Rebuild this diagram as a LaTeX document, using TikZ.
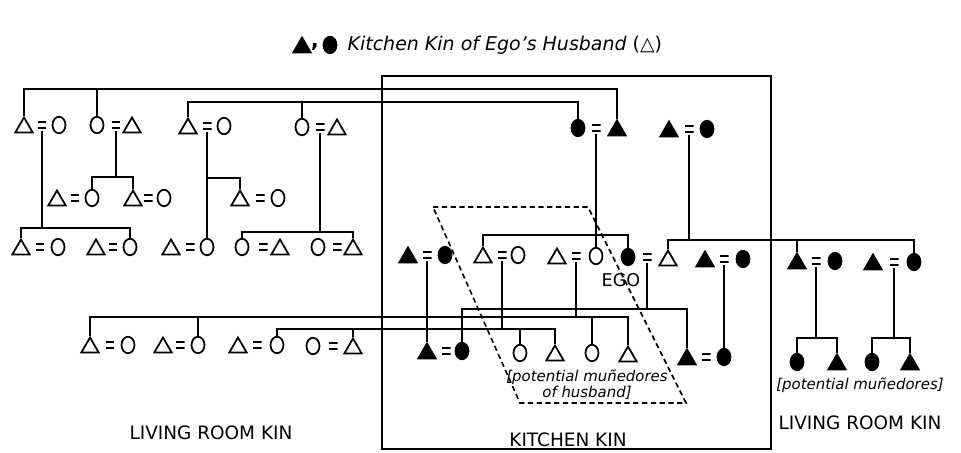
\documentclass[tikz,border=0pt]{standalone}
\usepackage{fontspec}
\setmainfont{DejaVu Sans}
\usetikzlibrary{shapes.geometric}

\begin{document}
\begin{tikzpicture}[x=0.02cm, y=-0.02cm, line width=0.9pt,
        man/.style = {regular polygon, regular polygon sides=3, draw, line width=1pt, inner sep=0pt, minimum size=0.4cm, yshift=-1.4pt},
        woman/.style = {ellipse, draw, line width=1pt, inner sep=0pt, minimum width=0.26cm, minimum height=0.33cm},
        kman/.style = {man, fill=black},
        kwoman/.style = {woman, fill=black},
        wed/.style = {inner sep=0pt, outer sep=1.5pt, minimum width=0.18cm, minimum height=0.15cm,
                path picture={\draw[line width=1pt]
                        ([yshift=-0.5pt]path picture bounding box.north west) -- ([yshift=-0.5pt]path picture bounding box.north east)
                        ([yshift=0.5pt]path picture bounding box.south west) -- ([yshift=0.5pt]path picture bounding box.south east);}},
        lbl/.style = {font=\fontsize{10.5}{12}\selectfont},
        note/.style = {font=\fontsize{8.5}{9}\selectfont\itshape}
        ]
        \useasboundingbox (0,0) rectangle (961,453);

        % title
        \node[kman] (t1) at (302,45) {};
        \node[font=\fontsize{12}{12}\selectfont\bfseries] (tcomma) at (315,47) {,};
        \node[kwoman] (t2) at (330,45) {};
        \node[anchor=west, font=\fontsize{10.8}{12}\selectfont] (title) at (341,45) {\itshape Kitchen Kin of Ego's Husband \upshape(△)};

        % kitchen frame and muñedores
        \draw[line width=1.3pt] (382,76) rectangle (771,449);
        \draw[dash pattern=on 3pt off 2pt] (433,207) -- (588,207) -- (686,403) -- (520,403) -- cycle;

        % first generation
        \node[man] (c1m) at (24,125) {};   \node[wed] (c1) at (42,125) {};   \node[woman] (c1f) at (59,125) {};
        \node[woman] (c2f) at (97,125) {}; \node[wed] (c2) at (116,125) {};  \node[man] (c2m) at (132,125) {};
        \node[man] (c3m) at (188,126) {};  \node[wed] (c3) at (207,126) {};  \node[woman] (c3f) at (224,126) {};
        \node[woman] (c4f) at (302,127) {};\node[wed] (c4) at (320,127) {};  \node[man] (c4m) at (337,127) {};
        \node[kwoman] (k1f) at (578,128) {};\node[wed] (k1) at (596,128) {};\node[kman] (k1m) at (617,128) {};
        \node[kman] (k2m) at (669,129) {}; \node[wed] (k2) at (689,129) {};  \node[kwoman] (k2f) at (707,129) {};

        % second generation
        \node[man] (c5m) at (57,198) {};   \node[wed] (c5) at (75,198) {};   \node[woman] (c5f) at (92,198) {};
        \node[man] (c6m) at (133,198) {};  \node[wed] (c6) at (148,198) {};  \node[woman] (c6f) at (164,198) {};
        \node[man] (c7m) at (240,198) {};  \node[wed] (c7) at (260,198) {};  \node[woman] (c7f) at (278,198) {};

        % third generation
        \node[man] (c8m) at (21,247) {};   \node[wed] (c8) at (40,247) {};   \node[woman] (c8f) at (58,247) {};
        \node[man] (c9m) at (96,247) {};   \node[wed] (c9) at (113,247) {};  \node[woman] (c9f) at (130,247) {};
        \node[man] (c10m) at (171,247) {}; \node[wed] (c10) at (190,247) {}; \node[woman] (c10f) at (207,247) {};
        \node[woman] (c11f) at (242,247) {};\node[wed] (c11) at (263,247) {};\node[man] (c11m) at (280,247) {};
        \node[woman] (c12f) at (318,247) {};\node[wed] (c12) at (337,247) {};\node[man] (c12m) at (353,247) {};
        \node[kman] (k3m) at (408,255) {}; \node[wed] (k3) at (427,255) {};  \node[kwoman] (k3f) at (445,255) {};
        \node[man] (s1m) at (483,255) {};  \node[wed] (s1) at (502,255) {};  \node[woman] (s1f) at (518,255) {};
        \node[man] (s2m) at (557,256) {};  \node[wed] (s2) at (576,256) {};  \node[woman] (s2f) at (596,256) {};
        \node[kwoman] (egof) at (628,257) {};\node[wed] (ego) at (647,257) {};\node[man] (egom) at (668,258) {};
        \node[kman] (k4m) at (705,259) {}; \node[wed] (k4) at (724,259) {};  \node[kwoman] (k4f) at (743,259) {};
        \node[kman] (k5m) at (797,261) {}; \node[wed] (k5) at (816,261) {};  \node[kwoman] (k5f) at (835,261) {};
        \node[kman] (k6m) at (873,262) {}; \node[wed] (k6) at (894,262) {};  \node[kwoman] (k6f) at (914,262) {};
        \node[font=\fontsize{10}{12}\selectfont] (egotxt) at (621,280) {EGO};

        % fourth generation
        \node[man] (c13m) at (90,345) {};  \node[wed] (c13) at (110,345) {}; \node[woman] (c13f) at (128,345) {};
        \node[man] (c14m) at (163,345) {}; \node[wed] (c14) at (180,345) {}; \node[woman] (c14f) at (198,345) {};
        \node[man] (c15m) at (238,345) {}; \node[wed] (c15) at (257,345) {}; \node[woman] (c15f) at (277,345) {};
        \node[woman] (c16f) at (313,346) {};\node[wed] (c16) at (333,346) {};\node[man] (c16m) at (353,346) {};
        \node[kman] (k7m) at (427,351) {}; \node[wed] (k7) at (446,351) {};  \node[kwoman] (k7f) at (462,351) {};
        \node[woman] (n1) at (520,353) {};
        \node[man] (n2) at (555,353) {};
        \node[woman] (n3) at (592,353) {};
        \node[man] (n4) at (628,354) {};
        \node[kman] (k8m) at (687,357) {}; \node[wed] (k8) at (706,357) {};  \node[kwoman] (k8f) at (724,357) {};
        \node[kwoman] (r1f) at (797,362) {};\node[kman] (r1m) at (837,362) {};
        \node[kwoman] (r2f) at (872,362) {};\node[kman] (r2m) at (910,362) {};

        % sibling bars
        \coordinate (barA) at (0,89);
        \coordinate (barB) at (0,102);
        \coordinate (barC1) at (0,228);
        \coordinate (barC2) at (0,177);
        \coordinate (barC3) at (0,178);
        \coordinate (barC4) at (0,232);
        \coordinate (barK1) at (0,235);
        \coordinate (barK2) at (0,240);
        \coordinate (barE) at (0,309);
        \coordinate (barS2) at (0,317);
        \coordinate (barS1) at (0,329);
        \coordinate (barK5) at (0,338);

        \draw (c1m.north) |- (barA -| k1m.north) -- (k1m.north);
        \draw (c2f.north) -- (c2f.north |- barA);
        \draw (c3m.north) |- (barB -| k1f.north) -- (k1f.north);
        \draw (c4f.north) -- (c4f.north |- barB);

        \draw (c1.south) -- (c1 |- barC1);
        \draw (c8m.north) |- (barC1 -| c9f.north) -- (c9f.north);
        \draw (c2.south) -- (c2 |- barC2);
        \draw (c5f.north) |- (barC2 -| c6m.north) -- (c6m.north);
        \draw (c3.south) -- (c10f.north);
        \draw (c3 |- barC3) -| (c7m.north);
        \draw (c4.south) -- (c4 |- barC4);
        \draw (c11f.north) |- (barC4 -| c12m.north) -- (c12m.north);

        \draw (k1.south) -- (s2f.north);
        \draw (s1m.north) |- (barK1 -| egof.north) -- (egof.north);
        \draw (k2.south) -- (k2 |- barK2);
        \draw (egom.north) |- (barK2 -| k6f.north) -- (k6f.north);
        \draw (k5m.north) -- (k5m.north |- barK2);

        \draw (k3.south) -- (k7m.north);
        \draw (k4.south) -- (k8f.north);
        \draw (ego.south) -- (ego |- barE);
        \draw (k7f.north) |- (barE -| k8m.north) -- (k8m.north);
        \draw (s2.south) -- (s2 |- barS2);
        \draw (c13m.north) |- (barS2 -| n4.north) -- (n4.north);
        \draw (c14f.north) -- (c14f.north |- barS2);
        \draw (n3.north) -- (n3.north |- barS2);
        \draw (s1.south) -- (s1 |- barS1);
        \draw (c15f.north) |- (barS1 -| n2.north) -- (n2.north);
        \draw (c16m.north) -- (c16m.north |- barS1);
        \draw (n1.north) -- (n1.north |- barS1);

        \draw (k5.south) -- (k5 |- barK5);
        \draw (r1f.north) |- (barK5 -| r1m.north) -- (r1m.north);
        \draw (k6.south) -- (k6 |- barK5);
        \draw (r2f.north) |- (barK5 -| r2m.north) -- (r2m.north);

        % labels
        \node[lbl] (livL) at (211,433) {LIVING ROOM KIN};
        \node[lbl] (kitch) at (568,440) {KITCHEN KIN};
        \node[note, align=center] (potM) at (587,385) {[potential muñedores\\of husband]};
        \node[note] (potR) at (860,385) {[potential muñedores]};
        \node[lbl] (livR) at (860,423) {LIVING ROOM KIN};
\end{tikzpicture}
\end{document}
